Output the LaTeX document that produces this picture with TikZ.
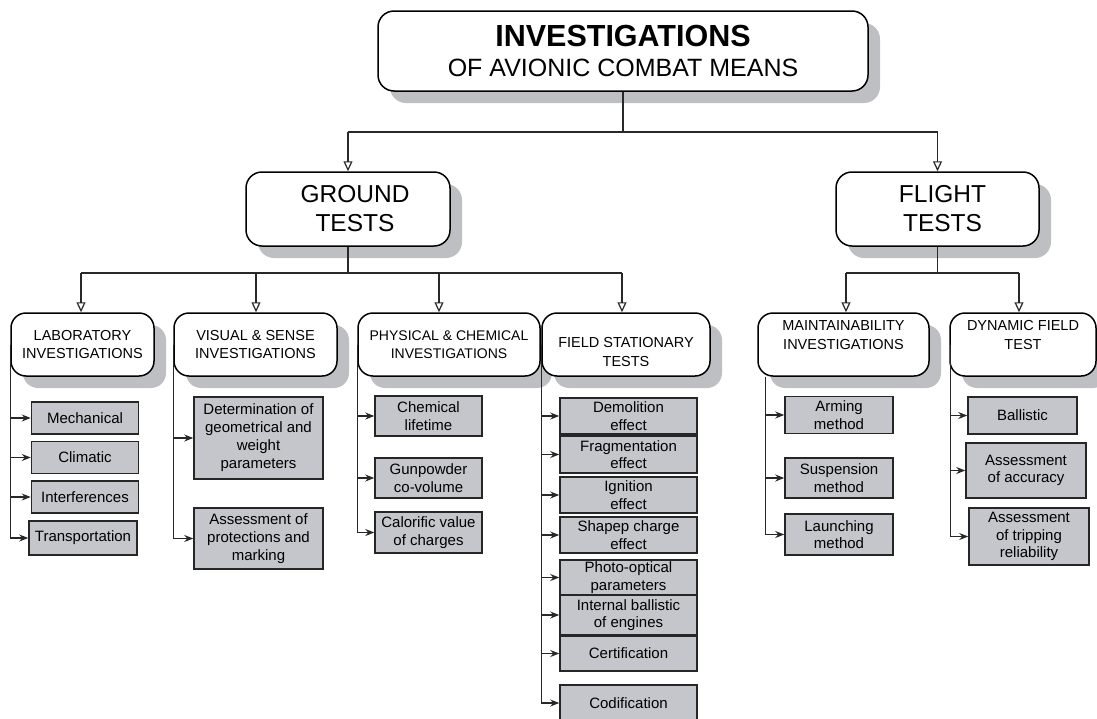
\documentclass[tikz,border=0pt]{standalone}
\usepackage{fontspec}
\setmainfont{Liberation Sans}
\usetikzlibrary{arrows.meta,shadows}

\definecolor{boxgray}{RGB}{196,198,204}
\definecolor{shadowgray}{RGB}{190,191,195}
\definecolor{linegray}{RGB}{40,40,40}

% text lowered/raised inside a box, keeping its size
\newcommand{\movetext}[2]{\raisebox{#1}[\height][\depth]{\begin{tabular}{@{}c@{}}#2\end{tabular}}}

\tikzset{
  shadowed/.style={drop shadow={shadow xshift=12pt, shadow yshift=-12pt, fill=shadowgray, opacity=1}},
  mainbox/.style={shadowed, draw=black, line width=1.5pt, rounded corners=16pt, fill=white, align=center, inner sep=0pt},
  headbox/.style={shadowed, draw=black, line width=1.5pt, rounded corners=15pt, fill=white, align=center, inner sep=0pt,
    minimum height=63pt, font=\fontsize{14.5}{18.5}\selectfont},
  itembox/.style={draw=black!85, line width=1.5pt, fill=boxgray, align=center, inner sep=0pt, font=\fontsize{15}{17.5}\selectfont},
  link/.style={draw=linegray, line width=1.2pt},
  drop/.style={link, -{Triangle[open, length=10pt, width=9pt]}},
  feed/.style={link, -{Stealth[length=9pt, width=7pt]}},
}

\begin{document}
\begin{tikzpicture}[x=1pt, y=-1pt]
\useasboundingbox (0,0) rectangle (1097,718);

% top levels
\node[mainbox, minimum width=490pt, minimum height=80pt, font=\fontsize{25}{30}\selectfont] (inv) at (623,51)
  {{\bfseries\fontsize{30.5}{30}\selectfont INVESTIGATIONS}\\OF AVIONIC COMBAT MEANS};
\node[mainbox, minimum width=204pt, minimum height=74pt, font=\fontsize{24.5}{29}\selectfont] (ground) at (348,209) {\hspace*{14pt}GROUND\\\hspace*{14pt}TESTS};
\node[mainbox, minimum width=203pt, minimum height=74pt, font=\fontsize{24.5}{29}\selectfont] (flight) at (937.5,209) {\hspace*{10pt}FLIGHT\\\hspace*{10pt}TESTS};

% group heads
\node[headbox, minimum width=143pt] (lab) at (82.5,344.5) {LABORATORY\\INVESTIGATIONS};
\node[headbox, minimum width=163pt] (vis) at (255.5,344.5) {VISUAL \& SENSE\\INVESTIGATIONS};
\node[headbox, minimum width=182pt, font=\fontsize{14}{17.5}\selectfont] (phys) at (449,344.5) {PHYSICAL \& CHEMICAL\\INVESTIGATIONS};
\node[headbox, minimum width=168pt] (field) at (626,344.5) {\movetext{-9pt}{FIELD STATIONARY\\TESTS}};
\node[headbox, minimum width=171pt] (maint) at (843.5,344.5) {\movetext{8pt}{MAINTAINABILITY\\INVESTIGATIONS}};
\node[headbox, minimum width=146pt] (dyn) at (1023,344.5) {\movetext{8pt}{DYNAMIC FIELD\\TEST}};

% items
\foreach \nm/\y/\txt in {mech/418/Mechanical, clim/457.5/Climatic, interf/497/Interferences}
  \node[itembox, minimum width=107pt, minimum height=32pt] (\nm) at (85,\y) {\txt};
\node[itembox, minimum width=108pt, minimum height=34pt] (transp) at (83,538) {Transportation};

\node[itembox, minimum width=129pt, minimum height=82pt, font=\fontsize{15}{18}\selectfont] (determ) at (258.5,438)
  {Determination of\\geometrical and\\weight\\parameters};
\node[itembox, minimum width=129pt, minimum height=61pt, font=\fontsize{15}{18}\selectfont] (protect) at (258.5,538.5)
  {Assessment of\\protections and\\marking};

\node[itembox, minimum width=107pt, minimum height=40pt] (chem) at (428.5,416) {Chemical\\lifetime};
\node[itembox, minimum width=107pt, minimum height=40pt] (gunp) at (428.5,478) {Gunpowder\\co-volume};
\node[itembox, minimum width=107pt, minimum height=41pt] (calor) at (428.5,532.5) {Calorific value\\of charges};

\foreach \nm/\y/\h/\txt in {demol/416/36/{Demolition\\effect}, frag/454.5/37/{Fragmentation\\effect},
    ign/495/36/{Ignition\\effect}, shape/535/36/{Shapep charge\\effect}, photo/577.5/35/{Photo-optical\\parameters},
    intbal/615/40/{Internal ballistic\\of engines}, cert/653.5/35/{Certification}, codif/703/36/{Codification}}
  \node[itembox, minimum width=137pt, minimum height=\h pt] (\nm) at (628.5,\y) {\txt};

\node[itembox, minimum width=108pt, minimum height=37pt] (arming) at (839,415) {Arming\\method};
\node[itembox, minimum width=108pt, minimum height=40pt] (susp) at (839,478) {Suspension\\method};
\node[itembox, minimum width=108pt, minimum height=41pt] (launch) at (839,534.5) {Launching\\method};

\node[itembox, minimum width=109pt, minimum height=37pt] (ballis) at (1022.5,415.5) {Ballistic};
\node[itembox, minimum width=120pt, minimum height=55pt] (accur) at (1026,470.5) {Assessment\\of accuracy};
\node[itembox, minimum width=120pt, minimum height=57pt] (tripp) at (1029,536.5) {Assessment\\of tripping\\reliability};

% tree lines
\coordinate (tbus) at (623,132);
\draw[link] (inv.south) -- (tbus);
\draw[link] (ground.north |- tbus) -- (flight.north |- tbus);
\draw[drop] (ground.north |- tbus) -- (ground.north);
\draw[drop] (flight.north |- tbus) -- (flight.north);

\coordinate (gbus) at (348,273);
\draw[link] (ground.south) -- (gbus);
\draw[link] ([xshift=-1.5pt]lab.north |- gbus) -- ([xshift=-4pt]field.north |- gbus);
\foreach \nm/\dx in {lab/-1.5pt, vis/0.5pt, phys/-10pt, field/-4pt}
  \draw[drop] ([xshift=\dx]\nm.north |- gbus) -- ([xshift=\dx]\nm.north);

\coordinate (fbus) at (937.5,273);
\draw[link] (flight.south) -- (fbus);
\draw[link] ([xshift=2.5pt]maint.north |- fbus) -- ([xshift=-4pt]dyn.north |- fbus);
\foreach \nm/\dx in {maint/2.5pt, dyn/-4pt}
  \draw[drop] ([xshift=\dx]\nm.north |- fbus) -- ([xshift=\dx]\nm.north);

% feeds to items
\foreach \itm in {mech, clim, interf}
  \draw[feed] (lab.west |- \itm.west) -- (\itm.west);
\draw[feed] (lab.west) |- (transp.west);
\draw[feed] (vis.west |- determ.west) -- (determ.west);
\draw[feed] (vis.west) |- (protect.west);
\foreach \itm in {chem, gunp}
  \draw[feed] (phys.west |- \itm.west) -- (\itm.west);
\draw[feed] (phys.west) |- (calor.west);
\foreach \itm in {demol, frag, ign, shape, photo, intbal, cert}
  \draw[feed] (field.west |- \itm.west) -- (\itm.west);
\draw[feed] (field.west) |- (codif.west);
\foreach \itm in {arming, susp}
  \draw[feed] ([xshift=8pt]maint.west |- \itm.west) -- (\itm.west);
\draw[feed] ([xshift=8pt]maint.south west) |- (launch.west);
\foreach \itm in {ballis, accur}
  \draw[feed] ([xshift=1pt]dyn.west |- \itm.west) -- (\itm.west);
\draw[feed] ([xshift=1pt]dyn.west) |- (tripp.west);
\end{tikzpicture}
\end{document}
